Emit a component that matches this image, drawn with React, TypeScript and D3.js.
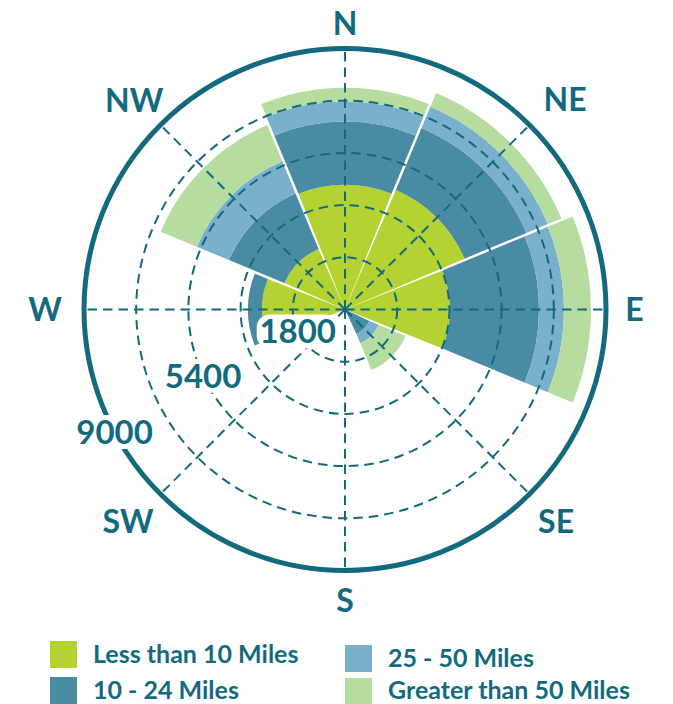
import React from 'react';
import * as d3 from 'd3';

// Wind-rose style distance breakdown by compass direction
const directions = ['N', 'NE', 'E', 'SE', 'S', 'SW', 'W', 'NW'];
const seriesNames = ['Less than 10 Miles', '10 - 24 Miles', '25 - 50 Miles', 'Greater than 50 Miles'];
const lessThan10 = [4300, 4480, 3620, 0, 0, 0, 2860, 2280];
const from10to24 = [2180, 2310, 3070, 930, 0, 0, 490, 2070];
const from25to50 = [690, 800, 860, 350, 0, 0, 0, 1200];
const over50 = [480, 510, 930, 1000, 0, 0, 0, 1350];
const radialTicks = [1800, 3600, 5400, 7200, 9000];
const labeledTicks = [1800, 5400, 9000];

const seriesValues = [lessThan10, from10to24, from25to50, over50];
const colors = ['#b4d333', '#4a8ba4', '#79b0cb', '#b7dc9f'];
const ink = '#136a7e';

const W = 673;
const H = 704;
const cx = 345;
const cy = 309.5;
const maxR = 261;
const font = 'Lato, "Open Sans", sans-serif';

// Placement of the compass letters (angle in degrees clockwise from north, radius in px)
const compassPlacement: Record<string, [number, number]> = {
  N: [0, 286],
  NE: [46.4, 304],
  E: [90, 289.5],
  SE: [135.1, 299],
  S: [180, 290.5],
  SW: [225.7, 303],
  W: [270, 300],
  NW: [314.8, 297],
};

// Placement of the radial tick labels (angle in degrees)
const tickLabelAngle: Record<number, number> = { 1800: 245, 5400: 245, 9000: 242 };

function polar(angleDeg: number, r: number): [number, number] {
  const a = (angleDeg * Math.PI) / 180;
  return [cx + Math.sin(a) * r, cy - Math.cos(a) * r];
}

export default function App() {
  const rows = directions.map((d, i) => {
    const row: Record<string, number | string> = { dir: d };
    seriesNames.forEach((s, k) => (row[s] = seriesValues[k][i]));
    return row;
  });
  const stacked = d3.stack<any>().keys(seriesNames)(rows);

  const r = d3.scaleLinear().domain([0, 9000]).range([0, maxR]);
  const angle = d3
    .scaleBand<string>()
    .domain(directions)
    .range([-Math.PI / 8, 2 * Math.PI - Math.PI / 8])
    .padding(0);

  const arc = d3
    .arc<any>()
    .innerRadius((d: any) => r(d[0]))
    .outerRadius((d: any) => r(d[1]))
    .startAngle((d: any) => angle(d.data.dir) as number)
    .endAngle((d: any) => (angle(d.data.dir) as number) + angle.bandwidth())
    .padAngle(0.025)
    .padRadius(100);

  const spokes = directions.map((d) => (angle(d) as number) + angle.bandwidth() / 2);

  return (
    <svg
      width={W}
      height={H}
      style={{ position: 'absolute', left: 0, top: 0, background: '#fff' }}
      fontFamily={font}
    >
      {/* stacked sectors */}
      <g transform={`translate(${cx},${cy})`}>
        {stacked.map((layer, k) => (
          <g key={layer.key} fill={colors[k]}>
            {layer.map((d, i) =>
              d[1] - d[0] > 0 ? <path key={i} d={arc(d) as string} /> : null
            )}
          </g>
        ))}
      </g>

      {/* dashed grid */}
      <g
        transform={`translate(${cx},${cy})`}
        fill="none"
        stroke={ink}
        strokeWidth={2}
        strokeDasharray="9.5 6"
      >
        {radialTicks
          .filter((t) => t < 9000)
          .map((t) => (
            <circle key={t} r={r(t)} />
          ))}
        {spokes.map((a, i) => (
          <line key={i} x1={0} y1={0} x2={Math.sin(a) * maxR} y2={-Math.cos(a) * maxR} />
        ))}
      </g>

      {/* outer ring */}
      <circle cx={cx} cy={cy} r={r(9000)} fill="none" stroke={ink} strokeWidth={5} />

      {/* radial tick labels */}
      {labeledTicks.map((t) => {
        const [x, y] = polar(tickLabelAngle[t], r(t));
        const fs = 33;
        const w = 74;
        return (
          <g key={t}>
            <rect x={x - w / 2 - 4} y={y - 17} width={w + 8} height={34} rx={13} fill="#fff" />
            <text
              x={x}
              y={y + fs * 0.36}
              textAnchor="middle"
              fontSize={fs}
              fontWeight={700}
              fill={ink}
            >
              {t}
            </text>
          </g>
        );
      })}

      {/* compass letters */}
      {directions.map((d) => {
        const [a, rr] = compassPlacement[d];
        const [x, y] = polar(a, rr);
        return (
          <text
            key={d}
            x={x}
            y={y + 32 * 0.36}
            textAnchor="middle"
            fontSize={32}
            fontWeight={700}
            fill={ink}
          >
            {d}
          </text>
        );
      })}

      {/* legend */}
      {seriesNames.map((s, k) => {
        const col = k < 2 ? 0 : 1;
        const x = col === 0 ? 50 : 345;
        const boxY = [641, 677, 645, 678][k];
        const textY = [654, 690, 658, 690][k];
        return (
          <g key={s}>
            <rect x={x} y={boxY} width={27} height={27} fill={colors[k]} />
            <text x={x + 43} y={textY + 25 * 0.36} fontSize={25} fontWeight={700} fill={ink}>
              {s}
            </text>
          </g>
        );
      })}
    </svg>
  );
}
